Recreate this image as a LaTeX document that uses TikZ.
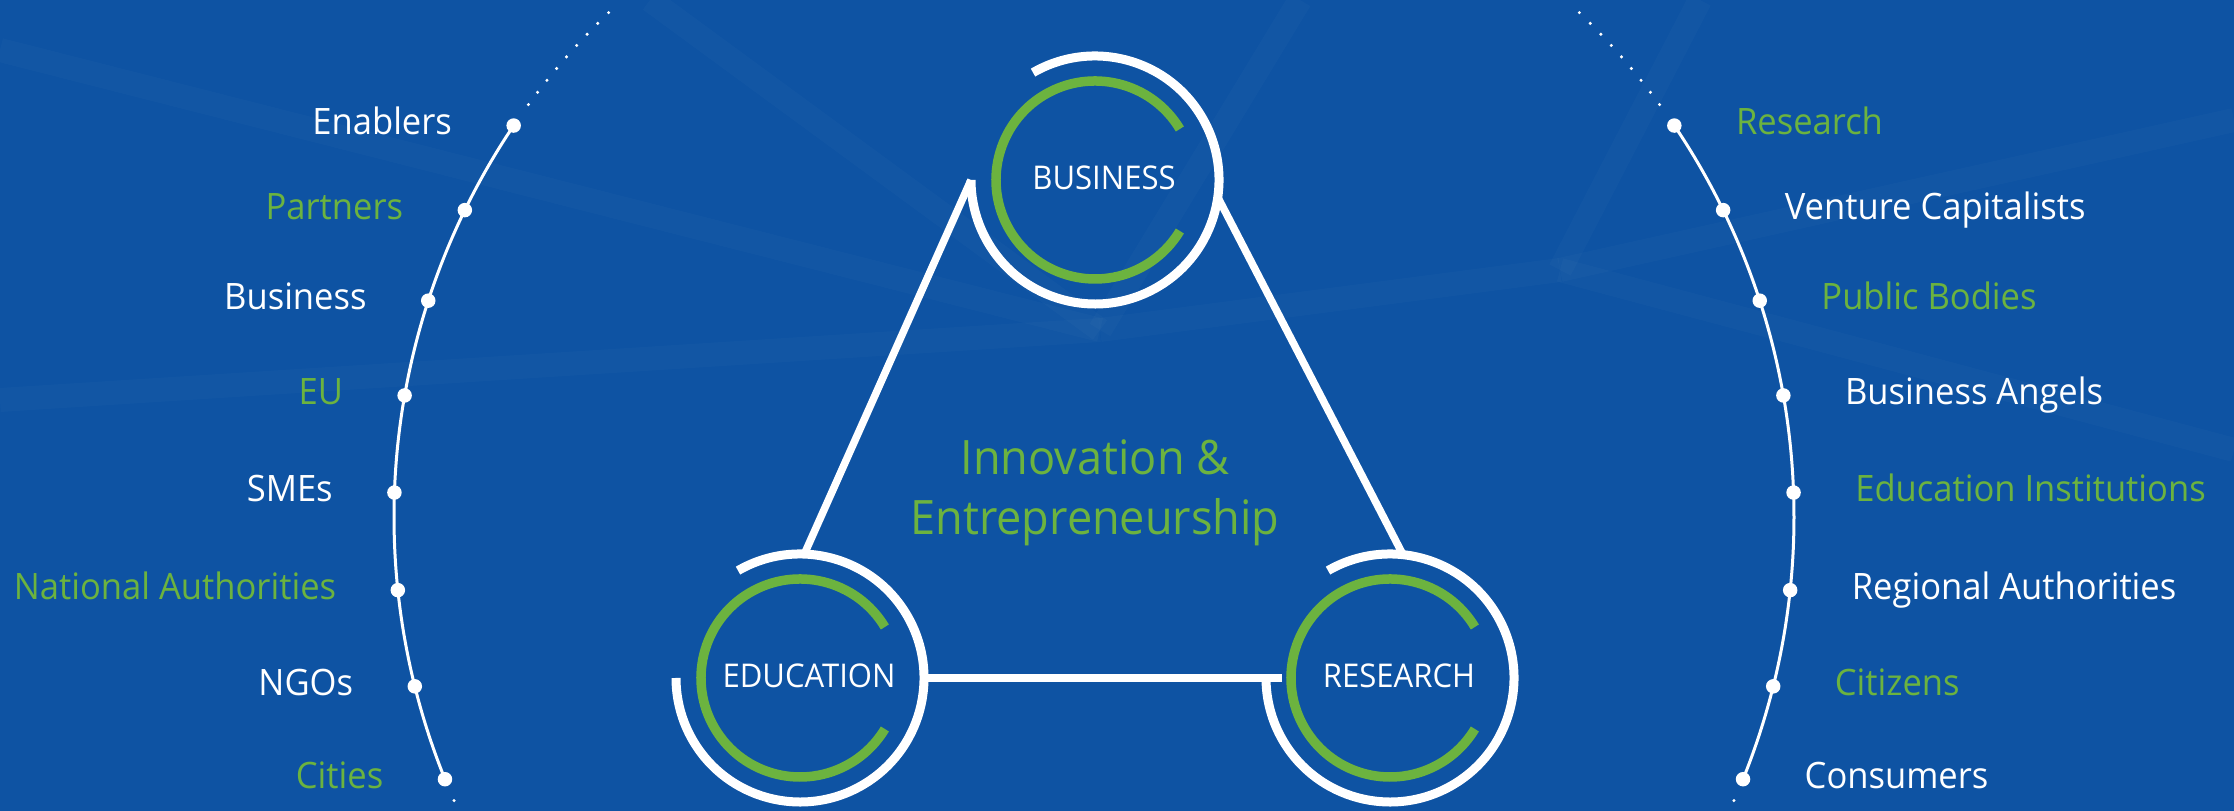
\documentclass[tikz,border=0pt]{standalone}
\usepackage{fontspec}
\setmainfont{Open Sans}[FakeStretch=0.95]
\definecolor{bgblue}{RGB}{14,83,163}
\definecolor{leafgreen}{RGB}{108,179,63}
\tikzset{
  hub/.style={circle,minimum size=24.8mm,inner sep=0pt,outer sep=0pt},
  ring/.style={white,line width=0.9mm},
  leaf/.style={leafgreen,line width=0.95mm},
  tie/.style={white,line width=0.75mm},
  chain/.style={white,line width=0.3mm},
  bead/.style={circle,fill=white,minimum size=1.45mm,inner sep=0pt},
  tag/.style={inner sep=0pt,font=\fontsize{10.35}{12}\selectfont},
  hubtag/.style={inner sep=0pt,white,font=\fontsize{9.3}{11}\selectfont},
  coretag/.style={inner sep=0pt,leafgreen,font=\fontsize{13.5}{17}\selectfont},
  streak/.style={white,opacity=0.018,line width=2.4mm},
}
\begin{document}
\begin{tikzpicture}[x=0.1mm,y=0.1mm]
  \useasboundingbox (0,0) rectangle (2234,811);
  \fill[bgblue] (0,0) rectangle (2234,811);
  \clip (0,0) rectangle (2234,811);
  % faint network in the back
  \foreach \p/\q in {0/761,0/411,650/811,1300/811}
    \draw[streak] (\p,\q) -- (1100,481);
  \draw[streak] (1100,481) -- (1560,541);
  \foreach \p/\q in {2234/691,2234/361,1700/811}
    \draw[streak] (1560,541) -- (\p,\q);
  % big circle of actors
  \coordinate (hub0) at (1094,294);
  \draw[chain] ([shift={(146:700)}]hub0) arc[start angle=146,end angle=202,radius=700];
  \draw[chain] ([shift={(34:700)}]hub0) arc[start angle=34,end angle=-22,radius=700];
  \foreach \a in {0,...,8} {
    \fill[white] ([shift={(143.9-1.25*\a:700)}]hub0) circle[radius=1.7];
    \fill[white] ([shift={(36.1+1.25*\a:700)}]hub0) circle[radius=1.7];
  }
  \fill[white] ([shift={(203.9:700)}]hub0) circle[radius=1.7];
  \fill[white] ([shift={(-23.9:700)}]hub0) circle[radius=1.7];
  \foreach \a/\lab/\col [count=\i] in {146/Enablers/white,154/Partners/leafgreen,
      162/Business/white,170/EU/leafgreen,178/SMEs/white,
      186/National Authorities/leafgreen,194/NGOs/white,202/Cities/leafgreen} {
    \node[bead] (l\i) at ([shift={(\a:700)}]hub0) {};
    \node[tag,text=\col,anchor=base east] (l\i-t) at ([shift={(-61,-9)}]l\i) {\lab};
  }
  \foreach \a/\lab/\col [count=\i] in {34/Research/leafgreen,26/Venture Capitalists/white,
      18/Public Bodies/leafgreen,10/Business Angels/white,
      2/Education Institutions/leafgreen,-6/Regional Authorities/white,
      -14/Citizens/leafgreen,-22/Consumers/white} {
    \node[bead] (r\i) at ([shift={(\a:700)}]hub0) {};
    \node[tag,text=\col,anchor=base west] (r\i-t) at ([shift={(61,-9)}]r\i) {\lab};
  }
  % triangle of the three hubs
  \node[hub] (bus) at (1095,631) {};
  \node[hub] (edu) at (800,133) {};
  \node[hub] (res) at (1390,133) {};
  \foreach \h/\lab in {bus/BUSINESS,edu/EDUCATION,res/RESEARCH} {
    \draw[leaf] ([shift={(31:99)}]\h.center) arc[start angle=31,end angle=329,radius=99];
    \draw[ring] (\h.120) arc[start angle=120,end angle=-180,radius=124];
    \node[hubtag,anchor=base] (\h-t) at ([shift={(9,-10)}]\h.center) {\lab};
  }
  \draw[tie] (bus.180) -- (edu.88);
  \draw[tie] (bus.-8) -- (res.84);
  \draw[tie] (edu.0) -- ([xshift=4.5]res.180);
  \node[coretag,anchor=base] (core1) at (1095,336) {Innovation \&};
  \node[coretag,anchor=base] (core2) at (1095,276) {Entrepreneurship};
\end{tikzpicture}
\end{document}
